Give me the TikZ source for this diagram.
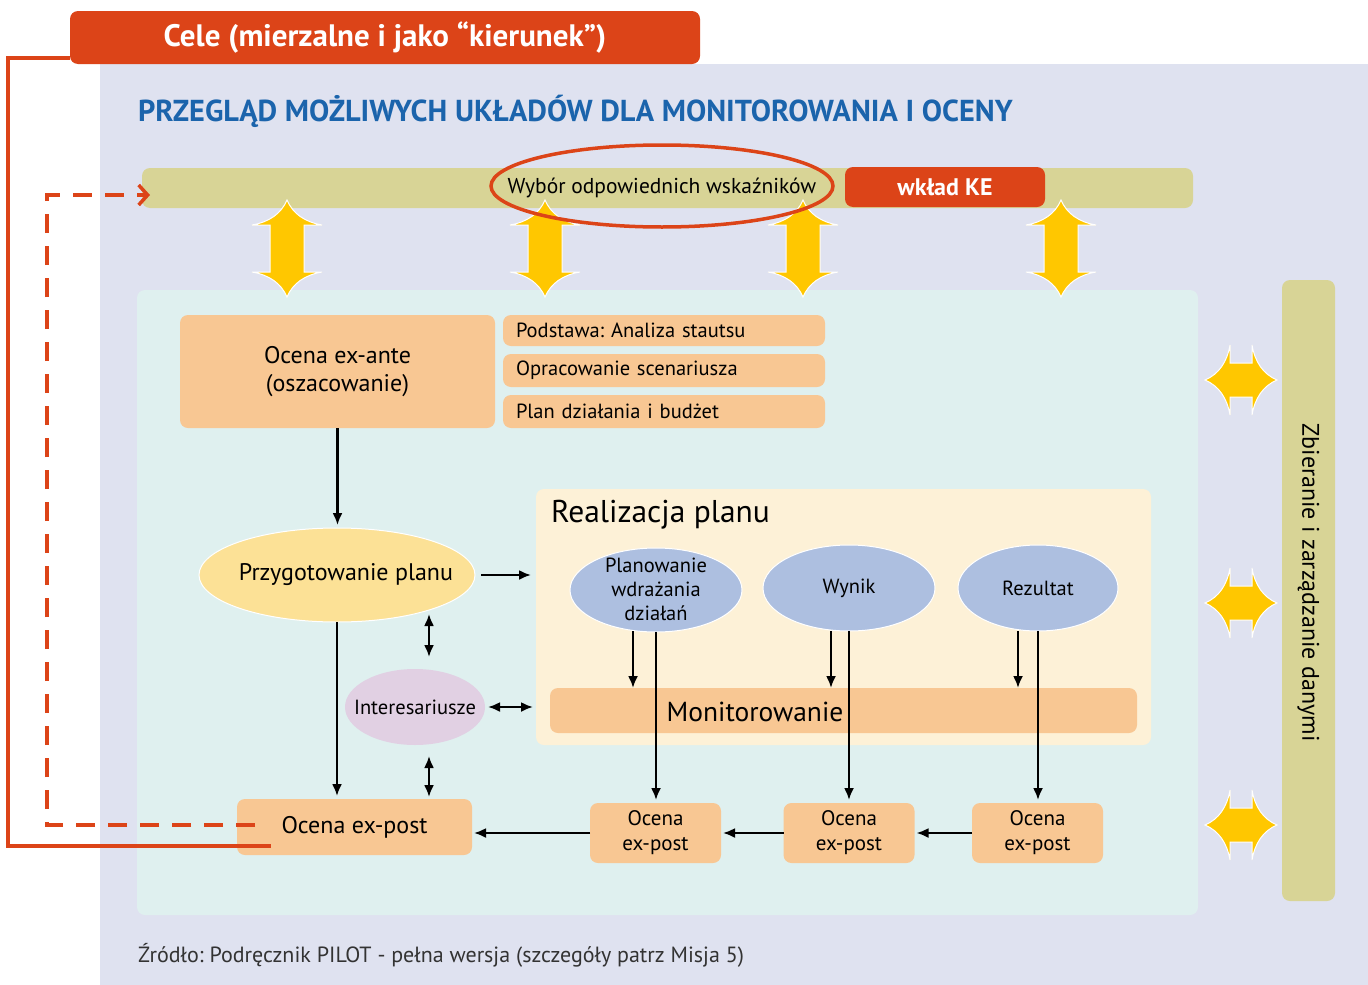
\documentclass[tikz,border=0pt]{standalone}
\usepackage{fontspec}
\setmainfont{PT Sans}
\usetikzlibrary{arrows.meta,shapes.geometric,calc}
\definecolor{celered}{HTML}{DC4418}
\definecolor{lavender}{HTML}{DFE2F0}
\definecolor{titleblue}{HTML}{1B64AC}
\definecolor{olive}{HTML}{D8D496}
\definecolor{panelcyan}{HTML}{DFF0EF}
\definecolor{peach}{HTML}{F8C793}
\definecolor{cream}{HTML}{FDF1D7}
\definecolor{planyellow}{HTML}{FCE196}
\definecolor{stepblue}{HTML}{ADBFE0}
\definecolor{lilac}{HTML}{E1D0E3}
\definecolor{fatyellow}{HTML}{FFC700}
\definecolor{srcgray}{HTML}{333333}
\frenchspacing
\tikzset{
  pics/fatarrow/.style={code={
    \fill[fatyellow, draw=white, line width=1pt]
      (0,-#1) .. controls (-6,-#1+14) and (-18,-#1+22) .. (-35,-#1+25)
      -- (-17,-#1+25) -- (-17,#1-25) -- (-35,#1-25)
      .. controls (-18,#1-22) and (-6,#1-14) .. (0,#1)
      .. controls (6,#1-14) and (18,#1-22) .. (35,#1-25)
      -- (17,#1-25) -- (17,-#1+25) -- (35,-#1+25)
      .. controls (18,-#1+22) and (6,-#1+14) .. (0,-#1) -- cycle;
  }}
}
\begin{document}
\begin{tikzpicture}[x=1pt,y=-1pt,
  every node/.style={inner sep=0pt, outer sep=0pt},
  panel/.style={rounded corners=8pt},
  box/.style={fill=peach, rounded corners=8pt, font=\fontsize{24}{28}\selectfont, align=center},
  smallbox/.style={fill=peach, rounded corners=8pt, minimum width=322pt, text width=296pt, align=left, font=\fontsize{20.5}{24}\selectfont},
  postbox/.style={fill=peach, rounded corners=8pt, minimum width=131pt, minimum height=60pt, align=center, font=\fontsize{21}{25}\selectfont},
  blob/.style={ellipse, draw=white, line width=1pt},
  blobtext/.style={font=\fontsize{#1}{24}\selectfont, align=center},
  flow/.style={-{Latex[length=12pt,width=10pt]}, line width=2.2pt},
  both/.style={{Latex[length=12pt,width=10pt]}-{Latex[length=12pt,width=10pt]}, line width=2.2pt},
  redline/.style={draw=celered, line width=3.5pt},
  dashline/.style={draw=celered, line width=3.5pt, dash pattern=on 19pt off 13pt}
]
\useasboundingbox (0,0) rectangle (1368,985);
\fill[white] (0,0) rectangle (1368,985);
\fill[lavender] (100,64) rectangle (1368,985);

% heading bar and title
\node[fill=celered, rounded corners=8pt, minimum width=630pt, minimum height=53pt,
      text=white, font=\fontsize{31}{34}\selectfont\bfseries] (cele) at (385,37.5)
      {Cele (mierzalne i jako “kierunek”)};
\node[anchor=west, text=titleblue, font=\fontsize{30.3}{34}\selectfont\bfseries] (title) at (138,111)
      {PRZEGLĄD MOŻLIWYCH UKŁADÓW DLA MONITOROWANIA I OCENY};

% indicator bar and data bar
\node[fill=olive, panel, minimum width=1051pt, minimum height=40pt] (bar) at (667.5,188) {};
\node[fill=celered, panel, minimum width=200pt, minimum height=40pt, text=white,
      font=\fontsize{24}{28}\selectfont\bfseries] (ke) at (945,187) {wkład KE};
\node[fill=olive, panel, minimum width=53pt, minimum height=621pt] (data) at (1308.5,590.5) {};
\node[rotate=-90, font=\fontsize{24}{28}\selectfont] (datatext) at ($(data.center)+(0,-8)$) {Zbieranie i zarządzanie danymi};

% main panel
\node[fill=panelcyan, panel, minimum width=1061pt, minimum height=625pt] (main) at (667.5,602.5) {};

% linking arrows
\foreach \x in {287,545,803,1061} \pic at (\x,248.5) {fatarrow=48.5};
\foreach \y in {380,603,825} \pic[rotate=90] at (1241,\y) {fatarrow=36};

% selected indicators
\node[font=\fontsize{21.5}{24}\selectfont] (wybortext) at (662,188) {Wybór odpowiednich wskaźników};
\node[ellipse, draw=celered, line width=3.5pt, minimum width=342pt, minimum height=82pt] (wybor) at (662,186) {};

% ex-ante block
\node[box, minimum width=315pt, minimum height=113pt] (exante) at (337.5,371.5) {Ocena ex-ante\\(oszacowanie)};
\node[smallbox, minimum height=31pt] (s1) at (664,330.5) {Podstawa: Analiza stautsu};
\node[smallbox, minimum height=33pt] (s2) at (664,370.5) {Opracowanie scenariusza};
\node[smallbox, minimum height=33pt] (s3) at (664,411.5) {Plan działania i budżet};

% plan preparation and stakeholders
\node[blob, fill=planyellow, minimum width=276pt, minimum height=94pt,
      label={[blobtext=24, xshift=9pt]center:Przygotowanie planu}] (prep) at (337,575) {};
\node[ellipse, fill=lilac, minimum width=140pt, minimum height=76pt,
      label={[blobtext=20.5]center:Interesariusze}] (inter) at (415,707) {};

% plan implementation
\node[fill=cream, panel, minimum width=615pt, minimum height=256pt] (real) at (843.5,617) {};
\node[anchor=west, font=\fontsize{31.5}{36}\selectfont] (realtext) at (551,515) {Realizacja planu};
\node[fill=peach, rounded corners=8pt, minimum width=587pt, minimum height=45pt] (mon) at (843.5,710.5) {};
\node[font=\fontsize{27.5}{30}\selectfont] (montext) at (755,712) {Monitorowanie};
\node[blob, fill=stepblue, minimum width=172pt, minimum height=84pt,
      label={[blobtext=20.5, yshift=1pt]center:Planowanie\\wdrażania\\działań}] (plan) at (656,590) {};
\node[blob, fill=stepblue, minimum width=172pt, minimum height=86pt,
      label={[blobtext=20.5]center:Wynik}] (wynik) at (849,588) {};
\node[blob, fill=stepblue, minimum width=160pt, minimum height=86pt,
      label={[blobtext=20.5]center:Rezultat}] (rez) at (1038,588) {};

% ex-post evaluations
\node[postbox] (ep1) at (655.5,833) {Ocena\\ex-post};
\node[postbox] (ep2) at (849,833) {Ocena\\ex-post};
\node[postbox] (ep3) at (1037.5,833) {Ocena\\ex-post};
\node[box, minimum width=235pt, minimum height=56pt] (expost) at (354.5,827) {Ocena ex-post};

% flow connectors
\draw[flow, shorten >=3pt] (exante.south) -- (exante.south |- prep.north);
\draw[flow, shorten <=6pt, shorten >=5pt] (prep.east) -- (real.west |- prep.east);
\draw[flow, shorten >=3pt] (prep.south) -- (prep.south |- expost.north);
\coordinate (ia) at ($(inter.north)+(14,-55)$);
\coordinate (ib) at ($(inter.north)+(14,-12)$);
\coordinate (ic) at ($(inter.south)+(14,11)$);
\draw[both] (ia) -- (ib);
\draw[both, shorten <=3pt, shorten >=3pt] (inter.east) -- (real.west |- inter.east);
\draw[both, shorten >=2pt] (ic) -- (ic |- expost.north);

\coordinate (pm) at ($(plan.south)+(-23,-1)$);
\coordinate (wm) at ($(wynik.south)+(-18,0)$);
\coordinate (rm) at ($(rez.south)+(-20,0)$);
\draw[flow] (pm) -- (pm |- mon.north);
\draw[flow, shorten >=3pt] (plan.south) -- (plan.south |- ep1.north);
\draw[flow] (wm) -- (wm |- mon.north);
\draw[flow, shorten >=3pt] (wynik.south) -- (wynik.south |- ep2.north);
\draw[flow] (rm) -- (rm |- mon.north);
\draw[flow, shorten >=3pt] (rez.south) -- (rez.south |- ep3.north);

\draw[flow, shorten >=2pt] (ep3.west) -- (ep2.east);
\draw[flow, shorten >=2pt] (ep2.west) -- (ep1.east);
\draw[flow, shorten >=2pt] (ep1.west) -- (expost.east |- ep1.west);

% feedback loops
\coordinate (solidend) at ($(expost.south west)+(34,-9)$);
\draw[redline] ($(cele.south west)+(0,-6)$) -- ++(-62,0) |- (solidend);
\coordinate (dashstart) at ($(expost.west)+(18,-2)$);
\draw[dashline, -{Straight Barb[length=9pt,width=20pt,line width=3.5pt]}]
  (dashstart) -- ++(-208,0) |- ($(bar.west)+(8,7)$);

% source line
\node[anchor=west, text=srcgray, font=\fontsize{22}{26}\selectfont] (src) at (138,955)
  {Źródło: Podręcznik PILOT - pełna wersja (szczegóły patrz Misja 5)};
\end{tikzpicture}
\end{document}
